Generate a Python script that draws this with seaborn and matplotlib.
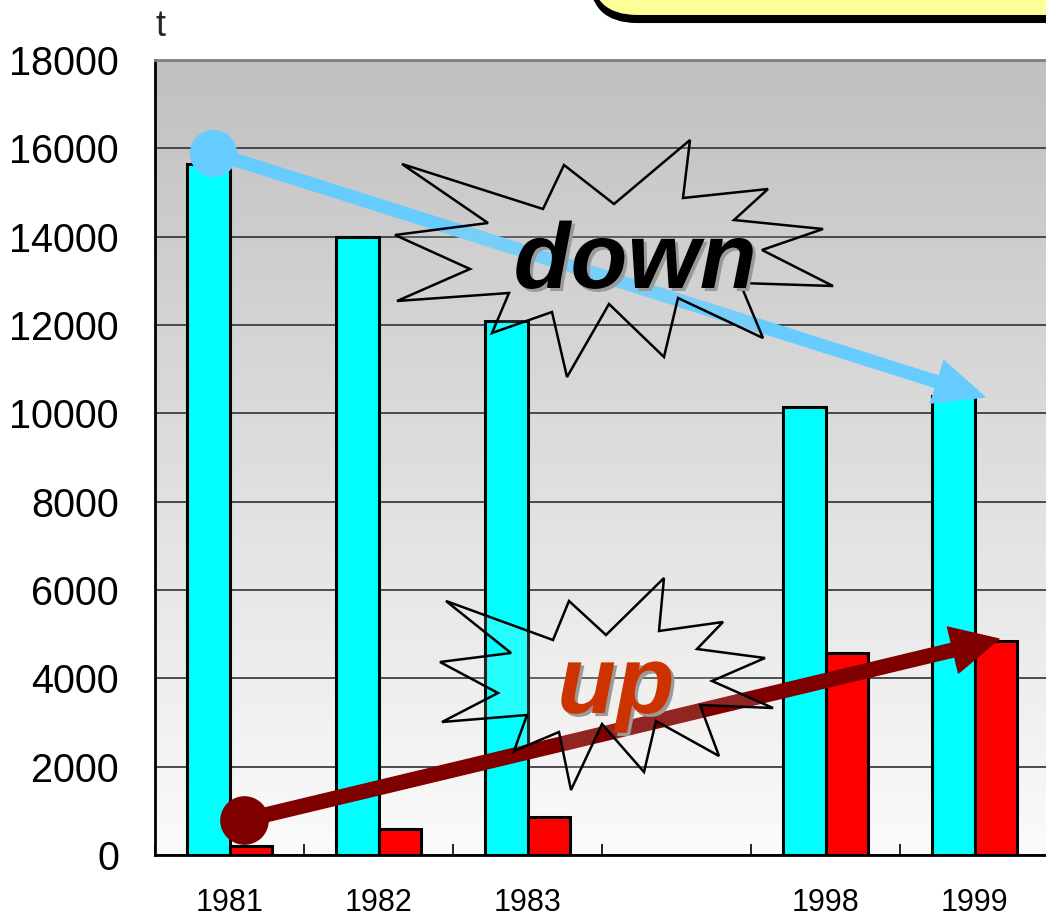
import numpy as np
import pandas as pd
import matplotlib
matplotlib.use("Agg")
import matplotlib.pyplot as plt
import matplotlib.patheffects as pe
from matplotlib.patches import Polygon, FancyBboxPatch
from matplotlib.colors import LinearSegmentedColormap
import seaborn as sns

# ---- data -------------------------------------------------------------
years = ["1981", "1982", "1983", "1998", "1999"]
slots = ["1981", "1982", "1983", " ", "1998", "1999"]   # blank slot between the periods
series_names = ["decline", "growth"]
decline = [15650, 14000, 12100, 10150, 10400]
growth = [200, 600, 870, 4570, 4850]
yticks = [0, 2000, 4000, 6000, 8000, 10000, 12000, 14000, 16000, 18000]

df = pd.DataFrame({
    "year": years * 2,
    "series": [series_names[0]] * len(years) + [series_names[1]] * len(years),
    "value": decline + growth,
})

# ---- style ------------------------------------------------------------
sns.set_theme(style="white")
plt.rcParams["font.family"] = ["Liberation Sans", "DejaVu Sans"]

W, H = 1046, 917
fig = plt.figure(figsize=(W / 100, H / 100), dpi=100)
fig.patch.set_facecolor("white")
ax = fig.add_axes([155 / W, 62 / H, 894 / W, 795 / H])


def fpx(x, y):
    """pixel position (from top-left) -> figure fraction"""
    return (x / W, 1 - y / H)


# gradient plot area
grad = np.linspace(0, 1, 256).reshape(-1, 1)
bg = LinearSegmentedColormap.from_list("bg", ["#fbfbfb", "#c0c0c0"])
ax.imshow(grad, extent=(-0.5, 5.5, 0, 18000), aspect="auto", cmap=bg,
          origin="lower", zorder=0)

sns.barplot(data=df, x="year", y="value", hue="series", order=slots,
            hue_order=series_names, palette=["#00ffff", "#ff0000"],
            saturation=1, width=0.565, edgecolor="black", linewidth=2.2,
            legend=False, ax=ax, zorder=2)

ax.set_xlim(-0.5, 5.5)
ax.set_ylim(0, 18000)
ax.set_xlabel("")
ax.set_ylabel("")
ax.set_yticks(yticks)
ax.set_yticklabels([str(v) for v in yticks])
ax.set_axisbelow(True)
ax.yaxis.grid(True, color="#303030", lw=1.2)
ax.xaxis.grid(False)

ax.tick_params(axis="y", length=0, pad=26, labelsize=28.5, labelcolor="black")
ax.tick_params(axis="x", which="major", length=0, pad=24, labelsize=22,
               labelcolor="black")
ax.set_xticks(np.arange(-0.5, 6, 1), minor=True)
ax.tick_params(axis="x", which="minor", direction="in", length=8, width=1.2,
               color="black", bottom=True)

for side in ("left", "bottom"):
    ax.spines[side].set_color("black")
    ax.spines[side].set_linewidth(2)
ax.spines["top"].set_color("#808080")
ax.spines["top"].set_linewidth(2)
ax.spines["right"].set_visible(False)

fig.text(*fpx(155, 36), "t", fontsize=26, ha="left", va="baseline")

# ---- trend arrows -----------------------------------------------------
blue = "#66ccff"
ax.annotate("", xy=(5.07, 10370), xytext=(-0.11, 15900),
            arrowprops=dict(arrowstyle="simple,head_length=3.6,head_width=3.2,tail_width=0.86",
                            mutation_scale=10, color=blue, shrinkA=0, shrinkB=0),
            zorder=4)
ax.plot(-0.11, 15900, "o", ms=33, color=blue, zorder=4)

dred = "#800000"
ax.annotate("", xy=(5.164, 4890), xytext=(0.097, 790),
            arrowprops=dict(arrowstyle="simple,head_length=3.4,head_width=3.4,tail_width=1.0",
                            mutation_scale=10, color=dred, shrinkA=0, shrinkB=0),
            zorder=4)
ax.plot(0.097, 790, "o", ms=34, color=dred, zorder=4)

# ---- starbursts -------------------------------------------------------
down_star = [(402, 164), (543, 209), (564, 165), (614, 204), (690, 140),
             (683, 198), (768, 189), (734, 220), (823, 229), (762, 250),
             (833, 286), (740, 283), (763, 338), (678, 298), (664, 357),
             (609, 304), (567, 377), (552, 312), (492, 333), (509, 293),
             (397, 301), (470, 269), (395, 235), (488, 223)]
up_star = [(446, 601), (553, 640), (569, 601), (606, 635), (664, 578),
           (659, 631), (723, 622), (697, 649), (765, 658), (712, 681),
           (773, 708), (700, 705), (719, 756), (656, 721), (644, 772),
           (602, 724), (571, 790), (559, 732), (514, 751), (527, 715),
           (442, 722), (498, 693), (440, 662), (511, 653)]

fig.add_artist(Polygon([fpx(*p) for p in down_star], closed=True,
                       transform=fig.transFigure,
                       facecolor=(0.84, 0.86, 0.84, 0.16),
                       edgecolor="black", lw=1.8, zorder=5))
fig.add_artist(Polygon([fpx(*p) for p in up_star], closed=True,
                       transform=fig.transFigure,
                       facecolor=(1.0, 0.96, 0.92, 0.15),
                       edgecolor="black", lw=1.8, zorder=5))

shadow = [pe.SimplePatchShadow(offset=(2.2, -2.2), shadow_rgbFace="#9a9a9a",
                               alpha=1), pe.Normal()]
fig.text(*fpx(635, 288), "down", fontsize=67, fontweight="bold",
         fontstyle="italic", color="black",
         ha="center", va="baseline", path_effects=shadow, zorder=6)
fig.text(*fpx(616, 713), "up", fontsize=69, fontweight="bold",
         fontstyle="italic", color="#cc3300",
         ha="center", va="baseline", path_effects=shadow, zorder=6)

# ---- callout box along the top edge ------------------------------------
for dy, fc in ((6, "black"), (0, "#ffff99")):
    box = FancyBboxPatch((590 / W, 1 - (16 + dy) / H), 700 / W, 150 / H,
                         boxstyle="round,pad=0,rounding_size=0.045",
                         transform=fig.transFigure, facecolor=fc,
                         edgecolor="black", lw=1.5, zorder=7,
                         mutation_aspect=W / H)
    fig.add_artist(box)

fig.savefig("out.png", dpi=100)
